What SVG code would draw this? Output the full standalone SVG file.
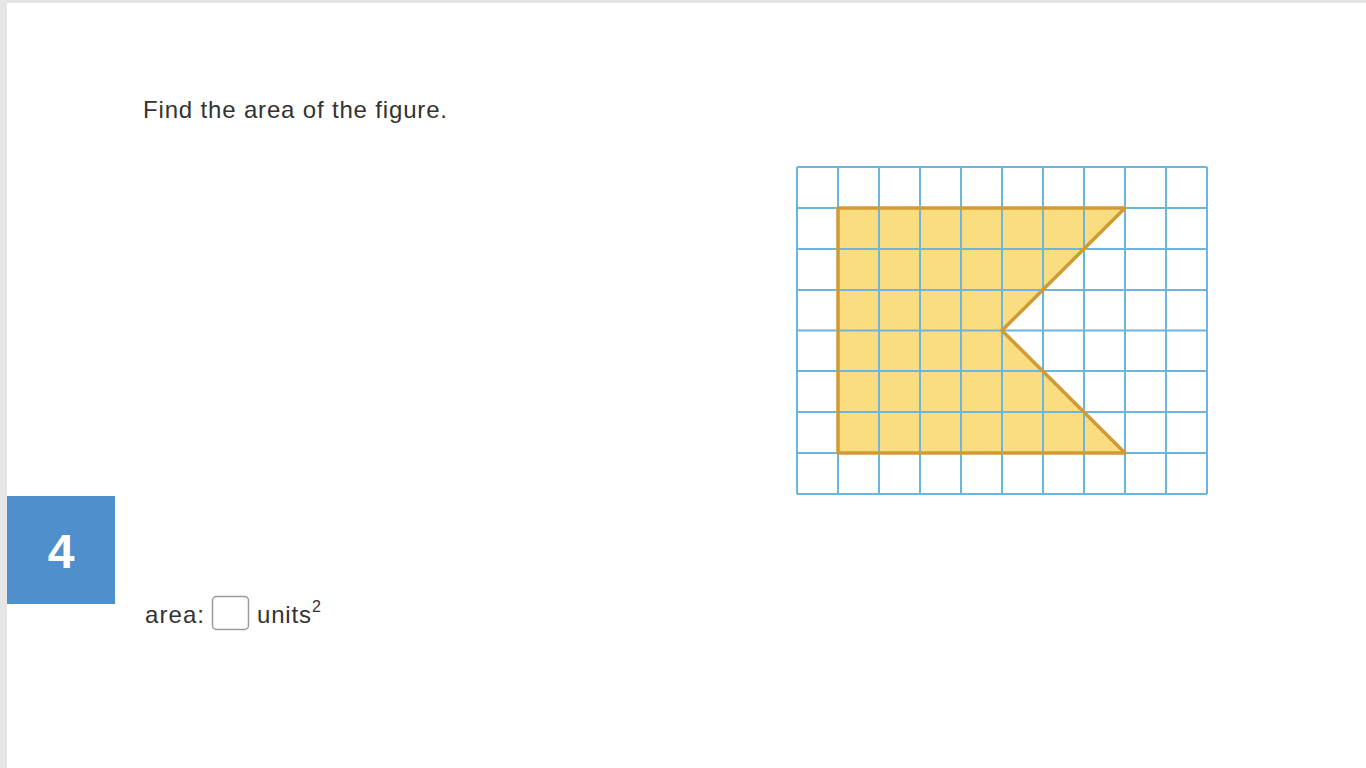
<svg xmlns="http://www.w3.org/2000/svg" width="1366" height="768" viewBox="0 0 1366 768">
<style>
.t{font-family:"Liberation Sans",Arial,sans-serif;fill:#333}
.g{stroke:#6cb6de;stroke-width:2;fill:none}
</style>
<rect width="1366" height="768" fill="#fff"/>
<rect x="0" y="0" width="1366" height="3" fill="#e4e4e4"/>
<rect x="0" y="0" width="7" height="768" fill="#e6e6e6"/>
<text class="t" x="143" y="118" font-size="24" textLength="304" lengthAdjust="spacing">Find the area of the figure.</text>
<g id="figure">
<polygon points="838,208 1125,208 1002,330.5 1125,453 838,453" fill="#f9dd80"/>
<g id="grid" class="g">
<path d="M797,167V494M838,167V494M879,167V494M920,167V494M961,167V494M1002,167V494M1043,167V494M1084,167V494M1125,167V494M1166,167V494M1207,167V494"/>
<path d="M797,167H1207M797,208H1207M797,249H1207M797,290H1207M797,330.5H1207M797,371H1207M797,412H1207M797,453H1207M797,494H1207"/>
</g>
<polygon points="838,208 1125,208 1002,330.5 1125,453 838,453" fill="none" stroke="#d19a35" stroke-width="3.5" stroke-linejoin="round"/>
</g>
<g id="number">
<rect x="7" y="496" width="108" height="108" fill="#4f8fcb"/>
<text x="61" y="568" font-family="Liberation Sans,Arial,sans-serif" font-size="48" font-weight="bold" fill="#fff" text-anchor="middle">4</text>
</g>
<g id="answer">
<text class="t" x="145" y="623" font-size="24" textLength="59" lengthAdjust="spacing">area:</text>
<rect x="212.5" y="596.5" width="36" height="33" rx="4" fill="#fff" stroke="#9a9a9a" stroke-width="1.5"/>
<text class="t" x="257" y="623" font-size="24" textLength="54" lengthAdjust="spacing">units</text>
<text class="t" x="312" y="612" font-size="16">2</text>
</g>
</svg>
